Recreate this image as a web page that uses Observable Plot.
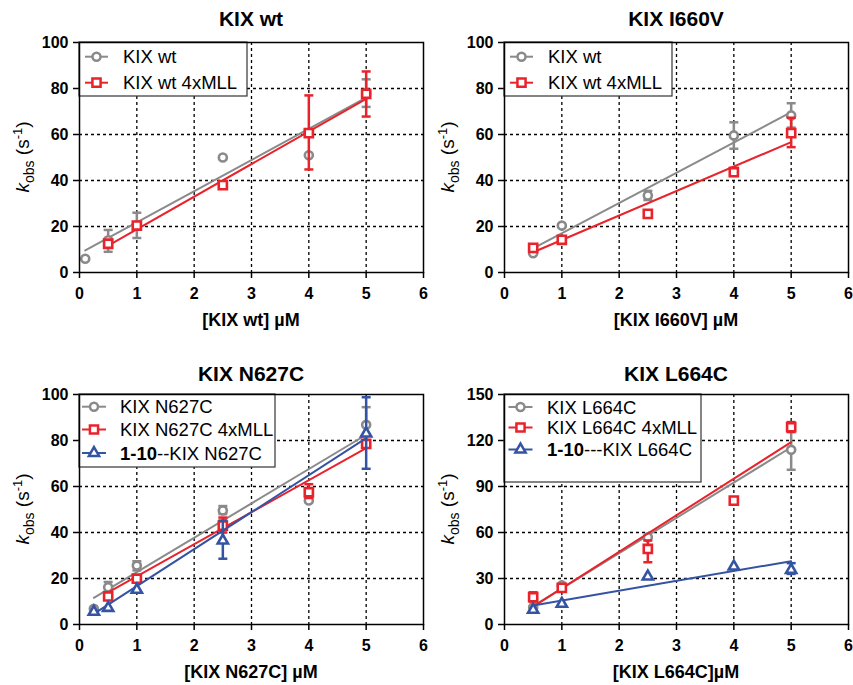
<!DOCTYPE html>
<html><head><meta charset="utf-8">
<script src="https://cdn.jsdelivr.net/npm/d3@7"></script>
<script src="https://cdn.jsdelivr.net/npm/@observablehq/plot@0.6"></script>
<style>
body{margin:0;background:#fff;}
#root{position:relative;width:853px;height:685px;font-family:"Liberation Sans",Arial,sans-serif;}
.panel{position:absolute;}
.panel svg{overflow:visible;}
</style></head><body><div id="root"></div>
<script>
// ---------- data ----------
const xTicks = [0, 1, 2, 3, 4, 5, 6];
const yTicks100 = [0, 20, 40, 60, 80, 100];
const yTicks150 = [0, 30, 60, 90, 120, 150];
const gridX = [1, 2, 3, 4, 5];
const gridY100 = [20, 40, 60, 80];
const gridY150 = [30, 60, 90, 120];

const titles = ["KIX wt", "KIX I660V", "KIX N627C", "KIX L664C"];
const xLabels = ["[KIX wt] \u00b5M", "[KIX I660V] \u00b5M", "[KIX N627C] \u00b5M", "[KIX L664C]\u00b5M"];

// Panel A: KIX wt
const aGrayName = "KIX wt";
const aGrayConc = [0.1, 0.5, 1, 2.5, 4, 5];
const aGrayK    = [6, 14, 20.5, 50, 51, 78];
const aGrayLo   = [null, 9, 15, null, null, 72];
const aGrayHi   = [null, 18.5, 26, null, null, 84];
const aGrayFitX = [0.1, 5];
const aGrayFitY = [9.6, 76];
const aRedName = "KIX wt 4xMLL";
const aRedConc = [0.5, 1, 2.5, 4, 5];
const aRedK    = [12.5, 20.4, 38, 60.6, 77.7];
const aRedLo   = [null, null, null, 44.8, 67.8];
const aRedHi   = [null, null, null, 77, 87.4];
const aRedFitX = [0.5, 5];
const aRedFitY = [11.7, 75.5];

// Panel B: KIX I660V
const bGrayName = "KIX wt";
const bGrayConc = [0.5, 1, 2.5, 4, 5];
const bGrayK    = [8.4, 20.4, 33.5, 59.6, 68.3];
const bGrayLo   = [null, null, 31.5, 53.8, 63];
const bGrayHi   = [null, null, 35.5, 65.3, 73.6];
const bGrayFitX = [0.5, 5];
const bGrayFitY = [10.5, 69.7];
const bRedName = "KIX wt 4xMLL";
const bRedConc = [0.5, 1, 2.5, 4, 5];
const bRedK    = [10.7, 14.2, 25.5, 43.6, 60.6];
const bRedLo   = [null, null, null, 42, 54.5];
const bRedHi   = [null, null, null, 45.5, 67.3];
const bRedFitX = [0.5, 5];
const bRedFitY = [8.8, 56.7];

// Panel C: KIX N627C
const cGrayName = "KIX N627C";
const cGrayConc = [0.25, 0.5, 1, 2.5, 4, 5];
const cGrayK    = [6.8, 16.2, 25.6, 49.6, 53.9, 86.8];
const cGrayLo   = [null, 14.5, 23.5, 48, null, 80];
const cGrayHi   = [null, 18.5, 27.5, 51.5, null, 94.5];
const cGrayFitX = [0.25, 5];
const cGrayFitY = [11.6, 82.5];
const cRedName = "KIX N627C 4xMLL";
const cRedConc = [0.5, 1, 2.5, 4, 5];
const cRedK    = [12.2, 19.9, 43, 57.5, 78.5];
const cRedLo   = [null, null, 40, 55, null];
const cRedHi   = [null, null, 46.5, 61, null];
const cRedFitX = [0.5, 5];
const cRedFitY = [14, 76.7];
const cBlueBold = "1-10", cBlueName = "--KIX N627C";
const cBlueConc = [0.25, 0.5, 1, 2.5, 5];
const cBlueK    = [5.5, 7.2, 15.1, 36.5, 83];
const cBlueLo   = [null, null, null, 28.6, 67.7];
const cBlueHi   = [null, null, null, 45.2, 98.8];
const cBlueFitX = [0.25, 5];
const cBlueFitY = [4.6, 81];

// Panel D: KIX L664C
const dGrayName = "KIX L664C";
const dGrayConc = [0.5, 1, 2.5, 5];
const dGrayK    = [11.3, 25.5, 56.9, 113.9];
const dGrayLo   = [null, null, null, 100.9];
const dGrayHi   = [null, null, null, 128];
const dGrayFitX = [0.5, 5];
const dGrayFitY = [12, 115.6];
const dRedName = "KIX L664C 4xMLL";
const dRedConc = [0.5, 1, 2.5, 4, 5];
const dRedK    = [17.8, 23.9, 49.3, 80.8, 128.7];
const dRedLo   = [15, null, 40.6, null, 125.5];
const dRedHi   = [21, null, 54.8, null, 132];
const dRedFitX = [0.5, 5];
const dRedFitY = [11.7, 118.9];
const dBlueBold = "1-10", dBlueName = "---KIX L664C";
const dBlueConc = [0.5, 1, 2.5, 4, 5];
const dBlueK    = [9.6, 13.5, 31.3, 37.8, 35.6];
const dBlueLo   = [null, null, null, null, 33];
const dBlueHi   = [null, null, null, null, 40];
const dBlueFitX = [0.5, 5];
const dBlueFitY = [12.4, 41.3];

// ---------- styles ----------
const GRAY = "#8a8a8a", RED = "#e8232b", BLUE = "#3553a3";
const FONT = "Liberation Sans, Arial, sans-serif";

function series(color, symbol, r, name, bold, conc, k, lo, hi, fx, fy) {
  return {
    color, symbol, r, name, bold,
    pts: conc.map((x, i) => ({x, y: k[i], lo: lo[i], hi: hi[i]})),
    err: conc.map((x, i) => ({x, lo: lo[i], hi: hi[i]})).filter(d => d.lo != null),
    fit: fx.map((x, i) => ({x, y: fy[i]}))
  };
}
const CIRC = ["circle", 4], SQ = ["square", 4.6], TRI = ["triangle", 3.8];

const panels = [
  {left: 0, top: 0, height: 340, mt: 42, mb: 68, yMax: 100, yTicks: yTicks100, gridY: gridY100,
   title: titles[0], xlabel: xLabels[0], titleDy: 24,
   legend: {w: 168, h: 54, rows: [14.7, 40.7], lx0: 6, lx1: 29, mx: 17.5, tx: 44},
   series: [
     series(GRAY, ...CIRC, aGrayName, null, aGrayConc, aGrayK, aGrayLo, aGrayHi, aGrayFitX, aGrayFitY),
     series(RED, ...SQ, aRedName, null, aRedConc, aRedK, aRedLo, aRedHi, aRedFitX, aRedFitY)]},
  {left: 425, top: 0, height: 340, mt: 42, mb: 68, yMax: 100, yTicks: yTicks100, gridY: gridY100,
   title: titles[1], xlabel: xLabels[1], titleDy: 24,
   legend: {w: 168, h: 54, rows: [14.7, 40.7], lx0: 6, lx1: 29, mx: 17.5, tx: 44},
   series: [
     series(GRAY, ...CIRC, bGrayName, null, bGrayConc, bGrayK, bGrayLo, bGrayHi, bGrayFitX, bGrayFitY),
     series(RED, ...SQ, bRedName, null, bRedConc, bRedK, bRedLo, bRedHi, bRedFitX, bRedFitY)]},
  {left: 0, top: 340, height: 345, mt: 54, mb: 61, yMax: 100, yTicks: yTicks100, gridY: gridY100,
   title: titles[2], xlabel: xLabels[2], titleDy: 21,
   legend: {w: 196, h: 73, rows: [12.7, 35.5, 59], lx0: 3, lx1: 27, mx: 15, tx: 41},
   series: [
     series(GRAY, ...CIRC, cGrayName, null, cGrayConc, cGrayK, cGrayLo, cGrayHi, cGrayFitX, cGrayFitY),
     series(RED, ...SQ, cRedName, null, cRedConc, cRedK, cRedLo, cRedHi, cRedFitX, cRedFitY),
     series(BLUE, ...TRI, cBlueName, cBlueBold, cBlueConc, cBlueK, cBlueLo, cBlueHi, cBlueFitX, cBlueFitY)]},
  {left: 425, top: 340, height: 345, mt: 54, mb: 61, yMax: 150, yTicks: yTicks150, gridY: gridY150,
   title: titles[3], xlabel: xLabels[3], titleDy: 21,
   legend: {w: 197, h: 88, rows: [13, 33.5, 55.5], lx0: 4.5, lx1: 28.5, mx: 16.5, tx: 43},
   series: [
     series(GRAY, ...CIRC, dGrayName, null, dGrayConc, dGrayK, dGrayLo, dGrayHi, dGrayFitX, dGrayFitY),
     series(RED, ...SQ, dRedName, null, dRedConc, dRedK, dRedLo, dRedHi, dRedFitX, dRedFitY),
     series(BLUE, ...TRI, dBlueName, dBlueBold, dBlueConc, dBlueK, dBlueLo, dBlueHi, dBlueFitX, dBlueFitY)]}
];

const cap = {draw(ctx) { ctx.moveTo(-4.5, 0); ctx.lineTo(4.5, 0); }};
const symType = {circle: d3.symbolCircle, square: d3.symbolSquare, triangle: d3.symbolTriangle};

const root = document.getElementById("root");
const W = 426, ML = 79, MR = 3;

for (const p of panels) {
  const marks = [
    Plot.ruleX(gridX, {stroke: "#000", strokeWidth: 1.3, strokeDasharray: "3,3"}),
    Plot.ruleY(p.gridY, {stroke: "#000", strokeWidth: 1.3, strokeDasharray: "3,3"})
  ];
  for (const s of p.series) {
    marks.push(
      Plot.line(s.fit, {x: "x", y: "y", stroke: s.color, strokeWidth: 2}),
      Plot.ruleX(s.err, {x: "x", y1: "lo", y2: "hi", stroke: s.color, strokeWidth: 2.5}),
      Plot.dot(s.err, {x: "x", y: "lo", symbol: cap, r: 4, fill: "none", stroke: s.color, strokeWidth: 2.5}),
      Plot.dot(s.err, {x: "x", y: "hi", symbol: cap, r: 4, fill: "none", stroke: s.color, strokeWidth: 2.5}),
      Plot.dot(s.pts, {x: "x", y: "y", symbol: s.symbol, r: s.r, fill: "white", stroke: s.color, strokeWidth: 2.6})
    );
  }
  marks.push(Plot.frame({stroke: "#000", strokeWidth: 1.5}));

  const svg = Plot.plot({
    width: W, height: p.height,
    marginLeft: ML, marginRight: MR, marginTop: p.mt, marginBottom: p.mb,
    style: {fontFamily: FONT, fontSize: "16px", fontWeight: "bold", color: "#000", background: "transparent", overflow: "visible"},
    x: {domain: [0, 6], ticks: xTicks, tickFormat: d3.format("d"), tickSize: 6, tickPadding: 9, label: null},
    y: {domain: [0, p.yMax], ticks: p.yTicks, tickFormat: d3.format("d"), tickSize: 6, tickPadding: 5, label: null},
    marks
  });

  const sel = d3.select(svg);
  sel.selectAll('g[aria-label="x-axis tick"], g[aria-label="y-axis tick"]').attr("stroke-width", 1.5);

  const fw = W - ML - MR, fh = p.height - p.mt - p.mb;

  // legend (inserted above grid, below data)
  const lg = d3.create("svg:g").attr("transform", `translate(${ML},${p.mt})`).attr("text-anchor", "start");
  lg.append("rect").attr("x", 0).attr("y", 0).attr("width", p.legend.w).attr("height", p.legend.h)
    .attr("fill", "#fff").attr("stroke", "#333").attr("stroke-width", 1.2);
  p.series.forEach((s, i) => {
    const yy = p.legend.rows[i];
    lg.append("line").attr("x1", p.legend.lx0).attr("x2", p.legend.lx1).attr("y1", yy).attr("y2", yy)
      .attr("stroke", s.color).attr("stroke-width", 2);
    lg.append("path").attr("transform", `translate(${p.legend.mx},${yy})`)
      .attr("d", d3.symbol().type(symType[s.symbol]).size(Math.PI * s.r * s.r)())
      .attr("fill", "#fff").attr("stroke", s.color).attr("stroke-width", 2.5);
    const t = lg.append("text").attr("x", p.legend.tx).attr("y", yy).attr("dy", "0.36em")
      .attr("text-anchor", "start")
      .attr("font-size", 18.5).attr("font-weight", "normal").attr("fill", "#000");
    if (s.bold) t.append("tspan").attr("font-weight", "bold").text(s.bold);
    t.append("tspan").text(s.name);
  });
  const firstLine = svg.querySelector('g[aria-label="line"]');
  svg.insertBefore(lg.node(), firstLine);

  // title
  sel.append("text").attr("x", ML + fw / 2).attr("y", p.mt - p.titleDy).attr("dy", "0.36em")
    .attr("text-anchor", "middle").attr("font-size", 21).attr("font-weight", "bold").attr("fill", "#000")
    .text(p.title);
  // x label
  sel.append("text").attr("x", ML + fw / 2).attr("y", p.mt + fh + 48).attr("dy", "0.36em")
    .attr("text-anchor", "middle").attr("font-size", 18).attr("font-weight", "bold").attr("fill", "#000")
    .text(p.xlabel);
  // y label: k_obs (s^-1)
  const yl = sel.append("text").attr("transform", `translate(29,${p.mt + fh / 2}) rotate(-90)`)
    .attr("text-anchor", "middle").attr("font-size", 19).attr("font-weight", "normal").attr("fill", "#000");
  yl.append("tspan").attr("font-style", "italic").text("k");
  yl.append("tspan").attr("font-size", 14).attr("dy", 5).text("obs");
  yl.append("tspan").attr("dy", -5).text(" (s");
  yl.append("tspan").attr("font-size", 13).attr("dy", -7).text("-1");
  yl.append("tspan").attr("dy", 7).text(")");

  const div = document.createElement("div");
  div.className = "panel";
  div.style.left = p.left + "px";
  div.style.top = p.top + "px";
  div.appendChild(svg);
  root.appendChild(div);
}
</script></body></html>
